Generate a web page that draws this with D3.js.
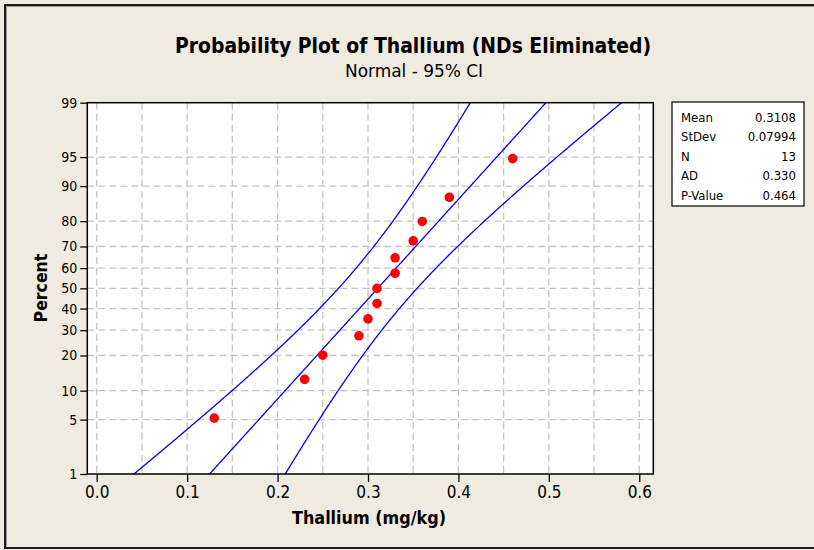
<!DOCTYPE html>
<html><head><meta charset="utf-8">
<script src="https://cdn.jsdelivr.net/npm/d3@7"></script>
<style>body{margin:0;background:#efebe1;overflow:hidden}svg{display:block}</style>
</head><body><svg id="c" width="814" height="550"></svg>
<script>
// ---- data ----
const thallium = [0.13, 0.23, 0.25, 0.29, 0.30, 0.31, 0.31, 0.33, 0.33, 0.35, 0.36, 0.39, 0.46];
const percent  = [5.2, 12.7, 20.1, 27.6, 35.1, 42.5, 50.0, 57.5, 64.9, 72.4, 79.9, 87.3, 94.8];
const yTicks = [1, 5, 10, 20, 30, 40, 50, 60, 70, 80, 90, 95, 99];
const xTicks = [0, 0.1, 0.2, 0.3, 0.4, 0.5, 0.6];
const xGrid  = [0, 0.05, 0.1, 0.15, 0.2, 0.25, 0.3, 0.35, 0.4, 0.45, 0.5, 0.55, 0.6];
const statLabels = ["Mean", "StDev", "N", "AD", "P-Value"];
const statValues = ["0.3108", "0.07994", "13", "0.330", "0.464"];
const fitMean = 0.3108, fitStDev = 0.07994, fitN = 13, ciZ = 1.96;

// inverse normal CDF (Acklam)
function probit(p) {
  const a=[-3.969683028665376e+01,2.209460984245205e+02,-2.759285104469687e+02,1.383577518672690e+02,-3.066479806614716e+01,2.506628277459239e+00];
  const b=[-5.447609879822406e+01,1.615858368580409e+02,-1.556989798598866e+02,6.680131188771972e+01,-1.328068155288572e+01];
  const c=[-7.784894002430293e-03,-3.223964580411365e-01,-2.400758277161838e+00,-2.549732539343734e+00,4.374664141464968e+00,2.938163982698783e+00];
  const d=[7.784695709041462e-03,3.224671290700398e-01,2.445134137142996e+00,3.754408661907416e+00];
  const pl=0.02425, ph=1-pl; let q,r;
  if(p<pl){q=Math.sqrt(-2*Math.log(p));return (((((c[0]*q+c[1])*q+c[2])*q+c[3])*q+c[4])*q+c[5])/((((d[0]*q+d[1])*q+d[2])*q+d[3])*q+1);}
  if(p<=ph){q=p-0.5;r=q*q;return (((((a[0]*r+a[1])*r+a[2])*r+a[3])*r+a[4])*r+a[5])*q/(((((b[0]*r+b[1])*r+b[2])*r+b[3])*r+b[4])*r+1);}
  q=Math.sqrt(-2*Math.log(1-p));return -(((((c[0]*q+c[1])*q+c[2])*q+c[3])*q+c[4])*q+c[5])/((((d[0]*q+d[1])*q+d[2])*q+d[3])*q+1);
}

const svg = d3.select("#c");
const FONT = "'DejaVu Sans Condensed','DejaVu Sans',sans-serif";
const L = 87.3, R = 653.3, T = 102.7, B = 474;
const zMax = probit(0.99);
const x = d3.scaleLinear().domain([-0.0104, 0.6155]).range([L, R]);
const yz = d3.scaleLinear().domain([-zMax, zMax]).range([B, T]);
const yp = p => yz(probit(p / 100));

// background + page border
svg.append("rect").attr("width", 814).attr("height", 550).attr("fill", "#efebe1");
svg.append("path").attr("d", "M814,5H5V548H814").attr("fill", "none").attr("stroke", "#1a1a1a").attr("stroke-width", 2);
svg.append("path").attr("d", "M814,6.5H6.5V546.5").attr("fill", "none").attr("stroke", "#9a9a9a").attr("stroke-width", 1);

// plot area
svg.append("rect").attr("x", L).attr("y", T).attr("width", R - L).attr("height", B - T).attr("fill", "#fff");

const grid = svg.append("g").attr("stroke", "#c4c4c4").attr("stroke-width", 1.3).attr("stroke-dasharray", "7,4");
grid.selectAll("line.v").data(xGrid).join("line")
  .attr("x1", d => x(d)).attr("x2", d => x(d)).attr("y1", T).attr("y2", B);
grid.selectAll("line.h").data(yTicks.filter(d => d > 1 && d < 99)).join("line")
  .attr("x1", L).attr("x2", R).attr("y1", d => yp(d)).attr("y2", d => yp(d));

// fitted line and CI curves
const clip = svg.append("clipPath").attr("id", "pc").append("rect")
  .attr("x", L).attr("y", T).attr("width", R - L).attr("height", B - T);
const zs = d3.range(-2.8, 2.8001, 0.02);
const se = z => fitStDev * Math.sqrt(1 / fitN + z * z / (2 * fitN));
const curves = [
  zs.map(z => [fitMean + z * fitStDev - ciZ * se(z), z]),
  zs.map(z => [fitMean + z * fitStDev, z]),
  zs.map(z => [fitMean + z * fitStDev + ciZ * se(z), z])
];
const line = d3.line().x(d => x(d[0])).y(d => yz(d[1]));
svg.append("g").attr("clip-path", "url(#pc)").selectAll("path").data(curves).join("path")
  .attr("d", line).attr("fill", "none").attr("stroke", "#0000ff").attr("stroke-width", 1.3);

// points
svg.append("g").selectAll("circle").data(thallium).join("circle")
  .attr("cx", d => x(d)).attr("cy", (d, i) => yp(percent[i])).attr("r", 4.8).attr("fill", "#ff0000");

// frame
svg.append("rect").attr("x", L).attr("y", T).attr("width", R - L).attr("height", B - T)
  .attr("fill", "none").attr("stroke", "#000").attr("stroke-width", 1.5);

// axes
const yAxis = d3.axisLeft(yz).tickValues(yTicks.map(p => probit(p / 100)))
  .tickFormat((d, i) => yTicks[i]).tickSize(7).tickPadding(3);
const ya = svg.append("g").attr("transform", `translate(${L},0)`).call(yAxis);
ya.select(".domain").remove();
ya.selectAll("line").attr("stroke", "#000").attr("stroke-width", 1.3);
ya.selectAll("text").attr("font-family", FONT).attr("font-size", 14).attr("fill", "#000");

const xAxis = d3.axisBottom(x).tickValues(xTicks).tickFormat(d3.format(".1f")).tickSize(8).tickPadding(4);
const xa = svg.append("g").attr("transform", `translate(0,${B})`).call(xAxis);
xa.select(".domain").remove();
xa.selectAll("line").attr("stroke", "#000").attr("stroke-width", 1.3);
xa.selectAll("text").attr("font-family", FONT).attr("font-size", 17).attr("fill", "#000");

// titles
svg.append("text").attr("x", 413).attr("y", 53).attr("text-anchor", "middle")
  .attr("font-family", FONT).attr("font-weight", "bold").attr("font-size", 22)
  .attr("textLength", 476).attr("lengthAdjust", "spacingAndGlyphs")
  .text("Probability Plot of Thallium (NDs Eliminated)");
svg.append("text").attr("x", 414).attr("y", 77).attr("text-anchor", "middle")
  .attr("font-family", FONT).attr("font-size", 17)
  .attr("textLength", 138).attr("lengthAdjust", "spacingAndGlyphs")
  .text("Normal - 95% CI");
svg.append("text").attr("x", 369).attr("y", 524).attr("text-anchor", "middle")
  .attr("font-family", FONT).attr("font-weight", "bold").attr("font-size", 17.5)
  .attr("textLength", 154).attr("lengthAdjust", "spacingAndGlyphs")
  .text("Thallium (mg/kg)");
svg.append("text").attr("transform", "translate(47,288) rotate(-90)").attr("text-anchor", "middle")
  .attr("font-family", FONT).attr("font-weight", "bold").attr("font-size", 17.5)
  .text("Percent");

// stats box
svg.append("rect").attr("x", 672).attr("y", 102).attr("width", 132).attr("height", 104)
  .attr("fill", "#fff").attr("stroke", "#000").attr("stroke-width", 1.2);
const sb = svg.append("g").attr("font-family", FONT).attr("font-size", 13);
sb.selectAll("text.l").data(statLabels).join("text")
  .attr("x", 681).attr("y", (d, i) => 121.5 + i * 19.6).text(d => d);
sb.selectAll("text.v").data(statValues).join("text")
  .attr("x", 796).attr("y", (d, i) => 121.5 + i * 19.6).attr("text-anchor", "end").text(d => d);
</script></body></html>
